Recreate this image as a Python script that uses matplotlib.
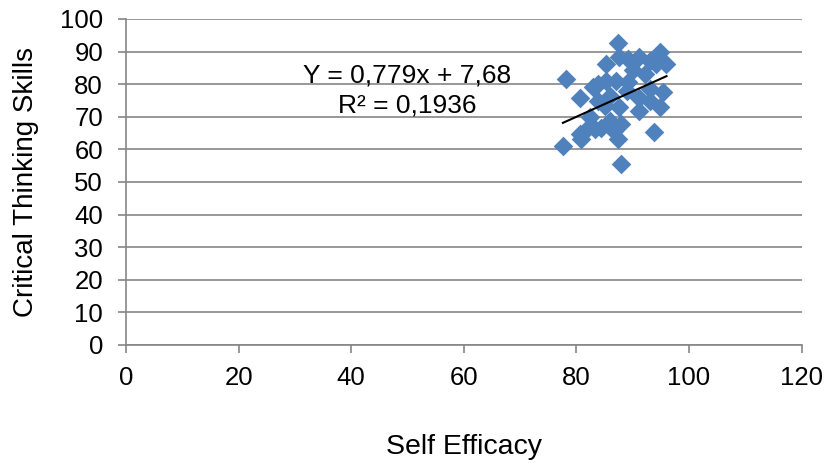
import numpy as np
import matplotlib
matplotlib.use("Agg")
from matplotlib import pyplot as plt

plt.rcParams['font.family'] = ['Liberation Sans', 'DejaVu Sans']

# self efficacy vs critical thinking scores
self_efficacy = [77.6, 78.2, 80.7, 80.9, 82.4, 81.5, 83.3, 83.8, 87.4, 88.0,
                 93.8, 87.4, 85.3, 87.6, 91.2, 94.8, 96.0, 94.2, 93.0, 89.2,
                 85.3, 87.1, 89.2, 83.8, 85.9, 88.9, 91.2, 93.0, 95.4, 85.0,
                 87.6, 91.2, 94.8, 93.0, 85.9, 88.0, 84.4, 86.7, 80.6, 90.1,
                 92.2, 83.0]
critical_thinking = [61.1, 81.6, 75.7, 63.1, 69.8, 65.7, 66.2, 80.1, 92.6, 55.6,
                     65.4, 63.1, 86.2, 88.3, 88.3, 89.8, 86.2, 86.2, 87.2, 87.7,
                     81.1, 81.1, 80.6, 74.9, 76.5, 78.0, 75.9, 78.5, 77.5, 73.4,
                     72.9, 71.8, 72.9, 74.9, 68.8, 67.7, 66.7, 65.7, 64.7, 84.2,
                     83.1, 79.0]

# trendline as printed on the chart
slope = 0.779
intercept = 7.68
r_squared = 0.1936

fig = plt.figure(figsize=(8.26, 4.63), dpi=100)
ax = fig.add_axes([0.1525, 0.255, 0.818, 0.704])

ax.scatter(self_efficacy, critical_thinking, marker='D', s=100, color='#4F81BD',
           linewidths=0, zorder=3)

tx = np.array([min(self_efficacy), max(self_efficacy)])
ax.plot(tx, slope * tx + intercept, color='black', lw=1.5, zorder=4)

eq = "Y = {}x + {}".format(str(slope).replace('.', ','), str(intercept).replace('.', ','))
r2 = "R² = {}".format(str(r_squared).replace('.', ','))
ax.text(50, 82.6, eq, ha='center', va='center', fontsize=19, zorder=5)
ax.text(50, 73.4, r2, ha='center', va='center', fontsize=19, zorder=5)

ax.set_xlim(0, 120)
ax.set_ylim(0, 100)
ax.set_xticks(range(0, 121, 20))
ax.set_yticks(range(0, 101, 10))
ax.grid(axis='y', color='#868686', lw=1.2)
ax.set_axisbelow(True)
for s in ['top', 'right']:
    ax.spines[s].set_visible(False)
for s in ['left', 'bottom']:
    ax.spines[s].set_color('#868686')
    ax.spines[s].set_linewidth(1.2)
ax.tick_params(direction='out', length=5.5, width=1.2, color='#868686', labelsize=18.5)
ax.tick_params(axis='x', pad=10)
ax.tick_params(axis='y', pad=11)

ax.set_xlabel("Self Efficacy", fontsize=20.5, labelpad=31)
ax.set_ylabel("Critical Thinking Skills", fontsize=20, labelpad=15)

fig.savefig("out.png", dpi=100)
